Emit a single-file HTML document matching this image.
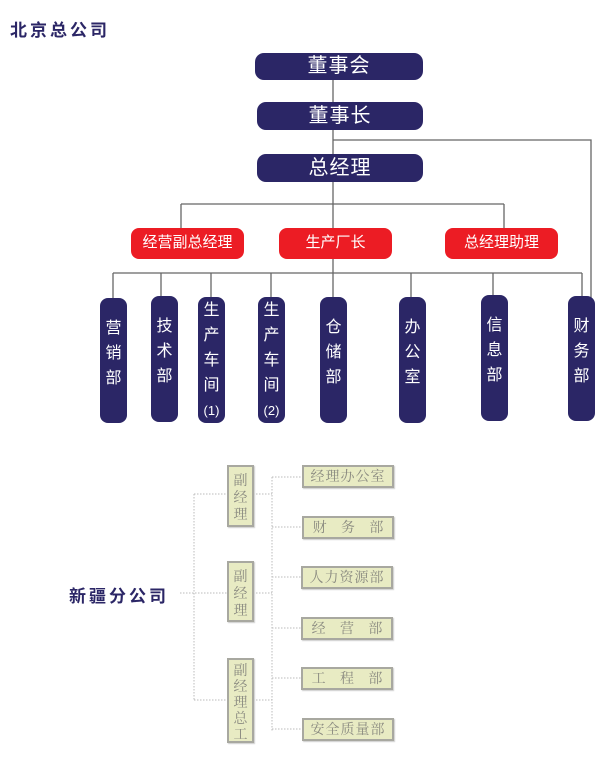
<!DOCTYPE html>
<html><head><meta charset="utf-8"><style>
*{margin:0;padding:0;box-sizing:border-box}
body{width:600px;height:782px;background:#fff;position:relative;overflow:hidden;font-family:"Liberation Sans","Noto Sans CJK SC",sans-serif}
.a{position:absolute}
.nv{position:absolute;background:#2b2666;color:#fff;border-radius:9px;text-align:center;font-size:20px;letter-spacing:1px}
.rd{position:absolute;background:#ec1c24;color:#fff;border-radius:8px;text-align:center;font-size:15px;line-height:30px}
.pl{position:absolute;width:27px;background:#2b2666;color:#fff;border-radius:8px;text-align:center;font-size:16px;line-height:25px}
.gb{position:absolute;background:#e8ebc3;border:2px solid #a8a8a0;box-shadow:1px 1px 1px #ccc;color:#8a8a80;font-family:"Noto Serif CJK SC","Liberation Serif",serif;font-size:14px;text-align:center}
</style></head><body>
<div class="a" style="left:10px;top:16px;font-size:17px;font-weight:bold;color:#2b2666;letter-spacing:3px">北京总公司</div>
<svg class="a" style="left:0;top:0" width="600" height="782">
<g stroke="#666" stroke-width="1.3" fill="none">
<path d="M333 80V154M333 140H591V298M333 182V228M181 204H504M181 204V228M504 204V228M333 259V273M113 273H582M113 273V298M161 273V296M211 273V297M271 273V297M333 273V297M411 273V297M493 273V295M582 273V296"/>
</g>
<g stroke="#bbb" stroke-width="1" stroke-dasharray="1.5 1.5" fill="none">
<path d="M180 593H227M194 494V700M194 494H227M194 700H227M253 494H272M253 593H272M253 700H272M272 477V731M272 477H302M272 527H302M272 577H302M272 628H302M272 678H302M272 729H302"/>
</g>
</svg>
<div class="nv" style="left:255px;top:53px;width:168px;height:27px;line-height:27px">董事会</div>
<div class="nv" style="left:257px;top:102px;width:166px;height:28px;line-height:28px">董事长</div>
<div class="nv" style="left:257px;top:154px;width:166px;height:28px;line-height:28px">总经理</div>
<div class="rd" style="left:131px;top:228px;width:113px;height:31px">经营副总经理</div>
<div class="rd" style="left:279px;top:228px;width:113px;height:31px">生产厂长</div>
<div class="rd" style="left:445px;top:228px;width:113px;height:31px">总经理助理</div>
<div class="pl" style="left:100px;top:298px;height:125px;padding-top:18px">营<br>销<br>部</div>
<div class="pl" style="left:151px;top:296px;height:126px;padding-top:18px">技<br>术<br>部</div>
<div class="pl" style="left:198px;top:297px;height:126px;padding-top:1px">生<br>产<br>车<br>间<br><span style="font-size:13px">(1)</span></div>
<div class="pl" style="left:258px;top:297px;height:126px;padding-top:1px">生<br>产<br>车<br>间<br><span style="font-size:13px">(2)</span></div>
<div class="pl" style="left:320px;top:297px;height:126px;padding-top:18px">仓<br>储<br>部</div>
<div class="pl" style="left:399px;top:297px;height:126px;padding-top:18px">办<br>公<br>室</div>
<div class="pl" style="left:481px;top:295px;height:126px;padding-top:18px">信<br>息<br>部</div>
<div class="pl" style="left:568px;top:296px;height:125px;padding-top:18px">财<br>务<br>部</div>
<div class="a" style="left:69px;top:582px;font-size:17px;font-weight:bold;color:#2b2666;letter-spacing:3px">新疆分公司</div>
<div class="gb" style="left:227px;top:465px;width:27px;height:62px;line-height:17px;padding-top:5px">副<br>经<br>理</div>
<div class="gb" style="left:227px;top:561px;width:27px;height:61px;line-height:17px;padding-top:5px">副<br>经<br>理</div>
<div class="gb" style="left:227px;top:658px;width:27px;height:85px;line-height:16px;padding-top:2px">副<br>经<br>理<br>总<br>工</div>
<div class="gb" style="left:302px;top:465px;width:92px;height:23px;line-height:19px;letter-spacing:1px">经理办公室</div>
<div class="gb" style="left:302px;top:516px;width:92px;height:23px;line-height:19px">财&nbsp;&nbsp;&nbsp;&nbsp;务&nbsp;&nbsp;&nbsp;&nbsp;部</div>
<div class="gb" style="left:301px;top:566px;width:92px;height:23px;line-height:19px;letter-spacing:1px">人力资源部</div>
<div class="gb" style="left:301px;top:617px;width:92px;height:23px;line-height:19px">经&nbsp;&nbsp;&nbsp;&nbsp;营&nbsp;&nbsp;&nbsp;&nbsp;部</div>
<div class="gb" style="left:301px;top:667px;width:92px;height:23px;line-height:19px">工&nbsp;&nbsp;&nbsp;&nbsp;程&nbsp;&nbsp;&nbsp;&nbsp;部</div>
<div class="gb" style="left:302px;top:718px;width:92px;height:23px;line-height:19px;letter-spacing:1px">安全质量部</div>
</body></html>
